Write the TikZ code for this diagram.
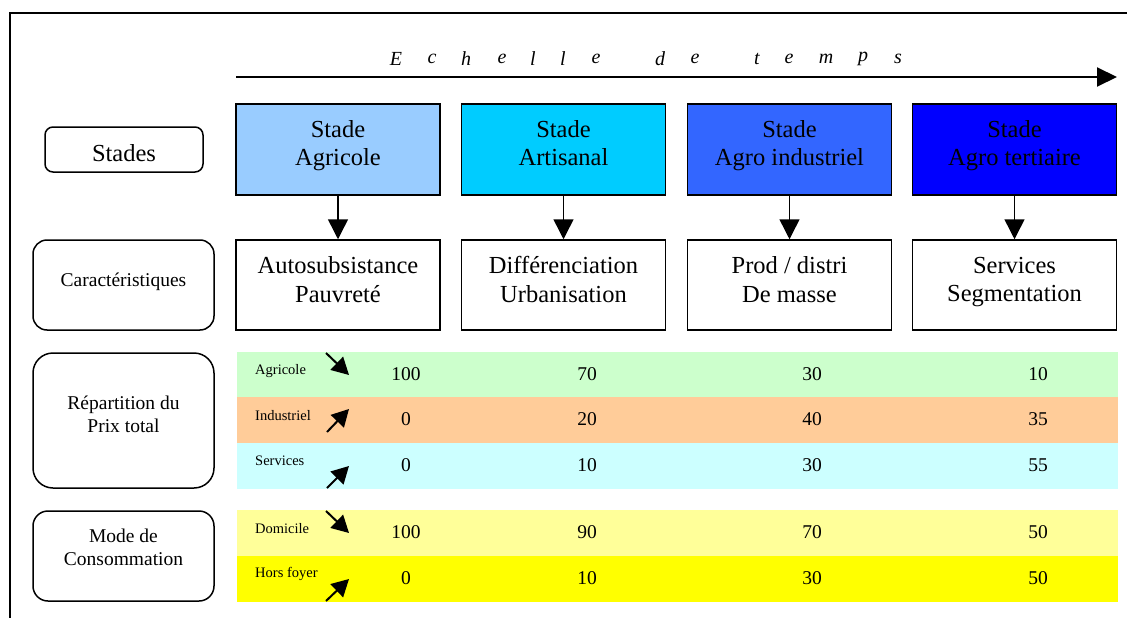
\documentclass[tikz,border=0pt]{standalone}
\usepackage{fontspec}
\setmainfont{Liberation Serif}
\usetikzlibrary{arrows.meta}
\definecolor{stageA}{HTML}{99CCFF}
\definecolor{stageB}{HTML}{00CCFF}
\definecolor{stageC}{HTML}{3366FF}
\definecolor{stageD}{HTML}{0000FF}
\definecolor{rowAgri}{HTML}{CCFFCC}
\definecolor{rowIndu}{HTML}{FFCC99}
\definecolor{rowServ}{HTML}{CCFFFF}
\definecolor{rowDom}{HTML}{FFFF99}
\definecolor{rowHors}{HTML}{FFFF00}
\begin{document}
\begin{tikzpicture}[x=1pt,y=-1pt,
  bigtext/.style={font=\fontsize{24.5}{28.5}\selectfont, align=center, inner sep=0pt, text depth=6pt},
  midtext/.style={font=\fontsize{19.5}{23}\selectfont, align=center, inner sep=0pt},
  smalltext/.style={font=\fontsize{14.5}{17}\selectfont, inner sep=0pt, anchor=west},
  numtext/.style={font=\fontsize{19.5}{23}\selectfont, inner sep=0pt},
  scaletext/.style={font=\fontsize{20}{24}\selectfont\itshape, inner sep=0pt},
  stagebox/.style={draw, line width=1.5pt, minimum width=204pt, minimum height=91pt, inner sep=0pt},
  charbox/.style={draw, line width=1.5pt, minimum width=204pt, minimum height=90pt, inner sep=0pt, fill=white},
  sidebox/.style={draw, line width=1.5pt, minimum width=181pt, inner sep=0pt},
  rowband/.style={minimum width=881pt, minimum height=46pt, inner sep=0pt, draw=none},
  downarrow/.style={line width=1.5pt, -{Triangle[length=20pt,width=20pt]}},
  timearrow/.style={line width=2pt, -{Triangle[length=20pt,width=19pt]}},
  trendarrow/.style={line width=2pt, -{Triangle[length=17pt,width=18pt]}}
]
\useasboundingbox (0,0) rectangle (1127,618);

% outer frame (open to the right and bottom)
\draw[line width=1.5pt] (10,618) -- (10,13) -- (1127,13);

% time scale
\coordinate (tstart) at (236,77);
\coordinate (tend) at (1117,77);
\draw[timearrow] (tstart) -- (tend);
\foreach \px/\ch [count=\i] in {396/E,432/c,466/h,502/e,533/l,563/l,596/e,660/d,695/e,757/t,789/e,826/m,863/p,898/s}
  \node[scaletext] (sc\i) at (\px,59) {\ch};

% stages
\node[stagebox, fill=stageA] (s1) at (338,149.5) {};
\node[stagebox, fill=stageB] (s2) at (563.5,149.5) {};
\node[stagebox, fill=stageC] (s3) at (789.5,149.5) {};
\node[stagebox, fill=stageD] (s4) at (1014.5,149.5) {};
\node[bigtext] (s1t) at (338,146) {Stade\\Agricole};
\node[bigtext] (s2t) at (563.5,146) {Stade\\Artisanal};
\node[bigtext] (s3t) at (789.5,146) {Stade\\Agro industriel};
\node[bigtext] (s4t) at (1014.5,146) {Stade\\Agro tertiaire};

% characteristics
\node[charbox] (c1) at (338,285) {};
\node[charbox] (c2) at (563.5,285) {};
\node[charbox] (c3) at (789.5,285) {};
\node[charbox] (c4) at (1014.5,285) {};
\node[bigtext] (c1t) at (338,282.5) {Autosubsistance\\Pauvreté};
\node[bigtext] (c2t) at (563.5,282.5) {Différenciation\\Urbanisation};
\node[bigtext] (c3t) at (789.5,282.5) {Prod / distri\\De masse};
\node[bigtext] (c4t) at (1014.5,282.5) {Services\\Segmentation};

\foreach \i in {1,...,4}
  \draw[downarrow] (s\i) -- (c\i);

% row headings
\node[sidebox, minimum width=158pt, minimum height=45pt, rounded corners=8pt] (hStades) at (124,149.5) {};
\node[bigtext, text depth=0pt] (hStadesT) at (124,152.5) {Stades};
\node[sidebox, minimum height=90pt, rounded corners=14pt] (hCar) at (123.5,285) {};
\node[midtext] (hCarT) at (123.5,282) {Caractéristiques};
\node[sidebox, minimum height=135pt, rounded corners=20pt] (hRep) at (123.5,420.5) {};
\node[midtext] (hRepT) at (123.5,414.5) {Répartition du\\Prix total};
\node[sidebox, minimum height=90pt, rounded corners=15pt] (hMode) at (123.5,556) {};
\node[midtext] (hModeT) at (123.5,547.5) {Mode de\\Consommation};

% coloured bands
\node[rowband, fill=rowAgri] (rAgri) at (677,374.5) {};
\node[rowband, fill=rowIndu] (rIndu) at (677,420) {};
\node[rowband, fill=rowServ] (rServ) at (677,465.5) {};
\node[rowband, fill=rowDom]  (rDom)  at (677,533) {};
\node[rowband, fill=rowHors] (rHors) at (677,578.5) {};

% band labels
\node[smalltext] (lAgri) at (255,371) {Agricole};
\node[smalltext] (lIndu) at (255,416) {Industriel};
\node[smalltext] (lServ) at (255,461) {Services};
\node[smalltext] (lDom)  at (255,529) {Domicile};
\node[smalltext] (lHors) at (255,574) {Hors foyer};

% values
\foreach \row/\y/\a/\b/\c/\d in {Agri/374/100/70/30/10, Indu/419/0/20/40/35, Serv/465/0/10/30/55, Dom/532/100/90/70/50, Hors/578/0/10/30/50}{
  \node[numtext] (v\row1) at (406,\y) {\a};
  \node[numtext] (v\row2) at (587,\y) {\b};
  \node[numtext] (v\row3) at (812,\y) {\c};
  \node[numtext] (v\row4) at (1038,\y) {\d};
}

% trend arrows
\coordinate (tAgriA) at (326,353);  \coordinate (tAgriB) at (349,375);
\coordinate (tInduA) at (327,432);  \coordinate (tInduB) at (349,409);
\coordinate (tServA) at (327,488);  \coordinate (tServB) at (349,466);
\coordinate (tDomA)  at (326,511);  \coordinate (tDomB)  at (349,533);
\coordinate (tHorsA) at (326,601);  \coordinate (tHorsB) at (349,579);
\foreach \r in {Agri,Indu,Serv,Dom,Hors}
  \draw[trendarrow] (t\r A) -- (t\r B);
\end{tikzpicture}
\end{document}
